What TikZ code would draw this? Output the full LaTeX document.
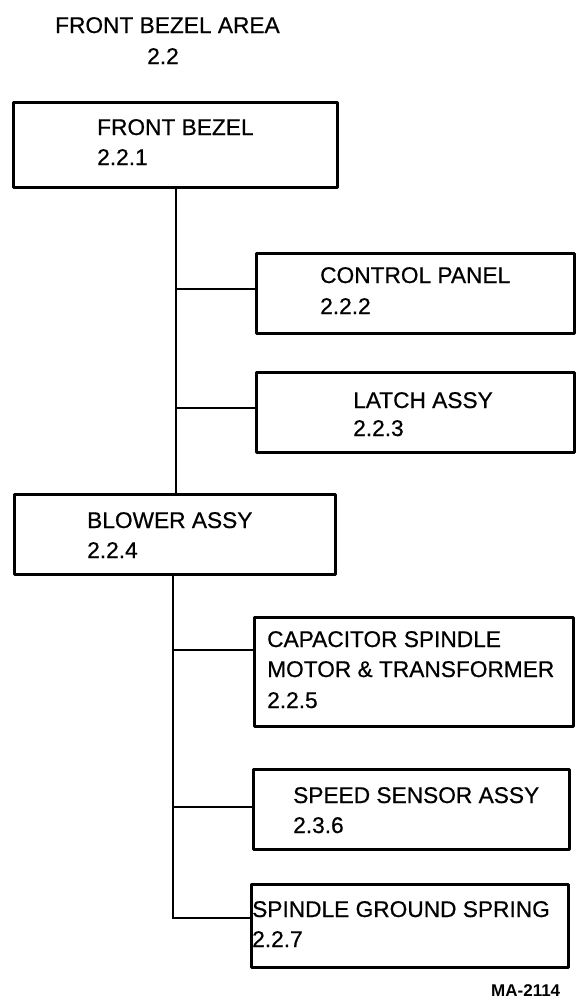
\documentclass[tikz,border=0pt]{standalone}
\usepackage{fontspec}
\setmainfont{Liberation Sans}
\newfontfamily\heavyfont[FakeBold=0.6]{Liberation Sans}
\begin{document}
\begin{tikzpicture}[x=1pt,y=-1pt,
  box/.style={draw, line width=3pt, line join=round, anchor=north west, inner sep=0pt},
  conn/.style={line width=2.6pt},
  lbl/.style={anchor=base west, inner sep=0pt, font=\heavyfont\fontsize{22.7}{27}\selectfont},
  tag/.style={anchor=base west, inner sep=0pt, font=\fontsize{17}{20}\selectfont\bfseries}]
\useasboundingbox (0,0) rectangle (580,1004);
% title
\node[lbl] (t1) at (55,33) {FRONT BEZEL AREA};
\node[lbl] (t2) at (147,64) {2.2};
% boxes
\node[box, minimum width=324pt, minimum height=85pt] (b1) at (12,101) {};
\node[box, minimum width=318pt, minimum height=80pt] (b2) at (255,252) {};
\node[box, minimum width=318pt, minimum height=80pt] (b3) at (255,371) {};
\node[box, minimum width=321pt, minimum height=80pt] (b4) at (13,493) {};
\node[box, minimum width=319pt, minimum height=109pt] (b5) at (253,616) {};
\node[box, minimum width=316pt, minimum height=80pt] (b6) at (252,768) {};
\node[box, minimum width=317pt, minimum height=83pt] (b7) at (250,883) {};
% texts
\node[lbl] (l1a) at (97,135) {FRONT BEZEL};
\node[lbl] (l1b) at (97,165) {2.2.1};
\node[lbl] (l2a) at (320,283) {CONTROL PANEL};
\node[lbl] (l2b) at (320,314) {2.2.2};
\node[lbl] (l3a) at (353,408) {LATCH ASSY};
\node[lbl] (l3b) at (353,436) {2.2.3};
\node[lbl] (l4a) at (87,528) {BLOWER ASSY};
\node[lbl] (l4b) at (87,558) {2.2.4};
\node[lbl] (l5a) at (267,647) {CAPACITOR SPINDLE};
\node[lbl] (l5b) at (267,677) {MOTOR \& TRANSFORMER};
\node[lbl] (l5c) at (267,708) {2.2.5};
\node[lbl] (l6a) at (293,803) {SPEED SENSOR ASSY};
\node[lbl] (l6b) at (293,833) {2.3.6};
\node[lbl] (l7a) at (252,917) {SPINDLE GROUND SPRING};
\node[lbl] (l7b) at (252,947) {2.2.7};
\node[tag] (ma) at (491,996) {MA-2114};
% connectors
\coordinate (j2) at (176,289);
\coordinate (j3) at (176,408);
\coordinate (j5) at (173,650);
\coordinate (j6) at (173,807);
\coordinate (j7) at (173,918);
\draw[conn] (b1.south -| j2) -- (b4.north -| j2);
\draw[conn] (j2) -- (j2 -| b2.west);
\draw[conn] (j3) -- (j3 -| b3.west);
\draw[conn] (b4.south -| j5) -- (j7) -- (j7 -| b7.west);
\draw[conn] (j5) -- (j5 -| b5.west);
\draw[conn] (j6) -- (j6 -| b6.west);
\end{tikzpicture}
\end{document}
